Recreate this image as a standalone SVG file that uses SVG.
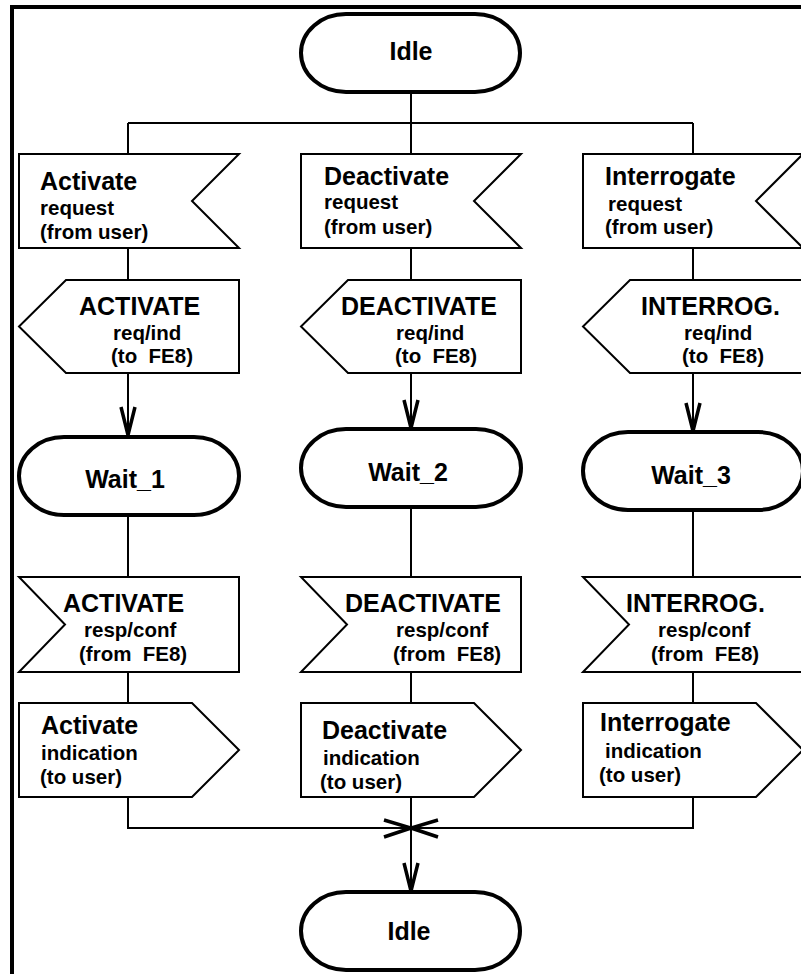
<svg xmlns="http://www.w3.org/2000/svg" width="801" height="974" viewBox="0 0 801 974">
<defs>
<style>
.frame{fill:none;stroke:#000;stroke-width:4}
.term{fill:#fff;stroke:#000;stroke-width:4}
.box{fill:#fff;stroke:#000;stroke-width:2;stroke-linejoin:miter}
.ln{fill:none;stroke:#000;stroke-width:2}
.ah{fill:none;stroke:#000;stroke-width:3.5;stroke-linejoin:miter;stroke-linecap:butt}
text{font-family:"Liberation Sans",Arial,Helvetica,sans-serif;font-weight:bold;fill:#000;white-space:pre}
.big{font-size:25px}
.sm{font-size:20.5px}
.mid{text-anchor:middle}
</style>
</defs>
<rect width="801" height="974" fill="#fff"/>
<path class="frame" d="M12,980 V7 H810"/>

<g id="connectors">
<path class="ln" d="M411,92 V123 M128,123 H693 M128,123 V154 M411,123 V154 M693,123 V154"/>
<path class="ln" d="M128,248 V280 M411,248 V280 M693,248 V280"/>
<path class="ln" d="M128,373 V433 M411,373 V426 M693,373 V429"/>
<path class="ah" d="M121,407 L128,435 L135,407"/>
<path class="ah" d="M404,400 L411,428 L418,400"/>
<path class="ah" d="M686,403 L693,431 L700,403"/>
<path class="ln" d="M128,515 V577 M411,507 V577 M693,510 V577"/>
<path class="ln" d="M128,672 V703 M411,672 V703 M693,672 V703"/>
<path class="ln" d="M128,797 V828 H693 V797 M411,797 V889"/>
<path class="ah" d="M384,820 L411,828 L384,837 M438,820 L411,828 L438,837"/>
<path class="ah" d="M404,863 L411,891 L418,863"/>
</g>

<g id="idle_top">
<rect class="term" x="301" y="14" width="219" height="78" rx="45" ry="39"/>
<text class="big mid" x="411" y="60">Idle</text>
</g>

<g id="activate_request">
<path class="box" d="M19,154 H239 L192,201 L239,248 H19 Z"/>
<text class="big" x="40" y="190">Activate</text>
<text class="sm" x="40" y="215">request</text>
<text class="sm" x="40" y="239">(from user)</text>
</g>
<g id="deactivate_request">
<path class="box" d="M301,154 H521 L474,201 L521,248 H301 Z"/>
<text class="big" x="324" y="185">Deactivate</text>
<text class="sm" x="324" y="209">request</text>
<text class="sm" x="324" y="234">(from user)</text>
</g>
<g id="interrogate_request">
<path class="box" d="M583,154 H803 L756,201 L803,248 H583 Z"/>
<text class="big" x="605" y="185">Interrogate</text>
<text class="sm" x="608" y="211">request</text>
<text class="sm" x="605" y="234">(from user)</text>
</g>

<g id="activate_reqind">
<path class="box" d="M66,280 H239 V373 H66 L19,326.5 Z"/>
<text class="big" x="79" y="315">ACTIVATE</text>
<text class="sm" x="113" y="340">req/ind</text>
<text class="sm" x="111" y="363">(to  FE8)</text>
</g>
<g id="deactivate_reqind">
<path class="box" d="M348,280 H521 V373 H348 L301,326.5 Z"/>
<text class="big" x="341" y="315">DEACTIVATE</text>
<text class="sm" x="396" y="340">req/ind</text>
<text class="sm" x="395" y="363">(to  FE8)</text>
</g>
<g id="interrog_reqind">
<path class="box" d="M630,280 H803 V373 H630 L583,326.5 Z"/>
<text class="big" x="641" y="315">INTERROG.</text>
<text class="sm" x="684" y="340">req/ind</text>
<text class="sm" x="682" y="363">(to  FE8)</text>
</g>

<g id="wait_1">
<rect class="term" x="19" y="437" width="220" height="78" rx="45" ry="39"/>
<text class="big mid" x="125" y="488">Wait_1</text>
</g>
<g id="wait_2">
<rect class="term" x="301" y="429" width="220" height="78" rx="45" ry="39"/>
<text class="big mid" x="408" y="481">Wait_2</text>
</g>
<g id="wait_3">
<rect class="term" x="583" y="432" width="220" height="78" rx="45" ry="39"/>
<text class="big mid" x="691" y="484">Wait_3</text>
</g>

<g id="activate_respconf">
<path class="box" d="M19,577 H239 V672 H19 L65,624.5 Z"/>
<text class="big" x="63" y="612">ACTIVATE</text>
<text class="sm" x="84" y="637">resp/conf</text>
<text class="sm" x="79" y="661">(from  FE8)</text>
</g>
<g id="deactivate_respconf">
<path class="box" d="M301,577 H521 V672 H301 L347,624.5 Z"/>
<text class="big" x="345" y="612">DEACTIVATE</text>
<text class="sm" x="396" y="637">resp/conf</text>
<text class="sm" x="393" y="661">(from  FE8)</text>
</g>
<g id="interrog_respconf">
<path class="box" d="M583,577 H803 V672 H583 L629,624.5 Z"/>
<text class="big" x="626" y="612">INTERROG.</text>
<text class="sm" x="658" y="637">resp/conf</text>
<text class="sm" x="651" y="661">(from  FE8)</text>
</g>

<g id="activate_indication">
<path class="box" d="M19,703 H192 L239,750 L192,797 H19 Z"/>
<text class="big" x="41" y="734">Activate</text>
<text class="sm" x="41" y="760">indication</text>
<text class="sm" x="40" y="784">(to user)</text>
</g>
<g id="deactivate_indication">
<path class="box" d="M301,703 H474 L521,750 L474,797 H301 Z"/>
<text class="big" x="322" y="739">Deactivate</text>
<text class="sm" x="323" y="765">indication</text>
<text class="sm" x="320" y="789">(to user)</text>
</g>
<g id="interrogate_indication">
<path class="box" d="M583,703 H756 L803,750 L756,797 H583 Z"/>
<text class="big" x="600" y="731">Interrogate</text>
<text class="sm" x="605" y="758">indication</text>
<text class="sm" x="599" y="782">(to user)</text>
</g>

<g id="idle_bottom">
<rect class="term" x="301" y="892" width="219" height="78" rx="45" ry="39"/>
<text class="big mid" x="409" y="940">Idle</text>
</g>
</svg>
